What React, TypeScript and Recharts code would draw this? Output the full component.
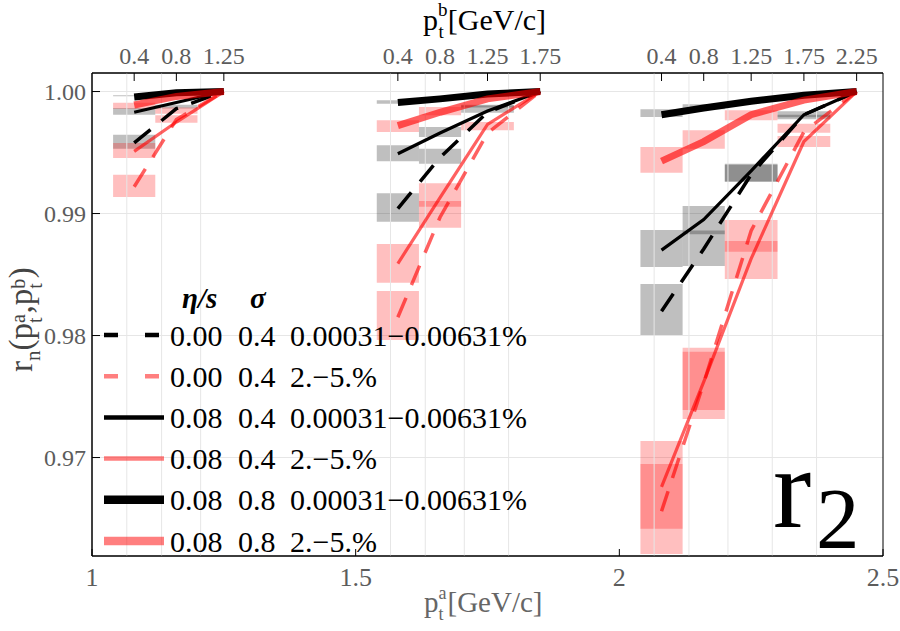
import React from 'react';
import {
  CartesianGrid,
  ComposedChart,
  Legend,
  Line,
  ReferenceArea,
  ReferenceLine,
  XAxis,
  YAxis,
} from 'recharts';

// ============ Layout ============

const W = 900;
const H = 631;
const SERIF = '"Liberation Serif", "Times New Roman", serif';
const TICK_GREY = '#5c5c5c';

// ============ Data ============

// p_t^a of each panel, and the x offset the panels are laid out at (x = offset + 0.2 * p_t^b)
const PA_VALUES = [1.25, 1.75, 2.25];
const PANEL_OFFSET = [1.0, 1.5, 2.0];
const PB_SCALE = 0.2;

// p_t^b bins
const PB_CENTERS = [0.4, 0.8, 1.25, 1.75, 2.25];
const PB_LABELS = ['0.4', '0.8', '1.25', '1.75', '2.25'];
const PB_EDGES = [0.2, 0.6, 1.0, 1.5, 2.0, 2.5];
const PB_GRID = [0.33, 0.66, 1.03, 1.45, 1.87];

const X_TICKS = [1, 1.5, 2, 2.5];
const Y_TICKS = [0.97, 0.98, 0.99, 1.0];
const Y_DOMAIN = [0.96193, 1.00152];

// hydro curves, one row per panel, values at the p_t^b centres up to p_t^a
const ETA0_SIG04_CENTRAL = [
  [0.9958, 0.9986, 1.0],
  [0.9904, 0.9946, 0.9983, 1.0],
  [0.982, 0.9871, 0.9932, 0.9981, 1.0],
];
const ETA0_SIG04_MID = [
  [0.9922, 0.9977, 1.0],
  [0.9815, 0.9897, 0.9966, 1.0],
  [0.9656, 0.9761, 0.9886, 0.9967, 1.0],
];
const ETA08_SIG04_CENTRAL = [
  [0.9983, 0.9991, 1.0],
  [0.9949, 0.9966, 0.9984, 1.0],
  [0.987, 0.9895, 0.9935, 0.9981, 1.0],
];
const ETA08_SIG04_MID = [
  [0.9951, 0.9975, 1.0],
  [0.9859, 0.9913, 0.9973, 1.0],
  [0.9676, 0.9762, 0.9863, 0.9959, 1.0],
];
const ETA08_SIG08_CENTRAL = [
  [0.99955, 0.9999, 1.0],
  [0.9991, 0.9994, 0.9998, 1.0],
  [0.9981, 0.99865, 0.9992, 0.9997, 1.0],
];
const ETA08_SIG08_MID = [
  [0.9989, 0.9996, 1.0],
  [0.9972, 0.9983, 0.9994, 1.0],
  [0.9943, 0.9959, 0.9981, 0.9993, 1.0],
];

// data boxes: [panel, p_t^b bin, low, high]
const CENTRAL_BOXES = [
  [0, 0, 0.99961, 0.99969], [0, 0, 0.9981, 0.99865], [0, 0, 0.99531, 0.99646],
  [0, 1, 0.9986, 0.99892],
  [1, 0, 0.999, 0.99928], [1, 0, 0.99428, 0.99559], [1, 0, 0.98933, 0.99166],
  [1, 1, 0.99627, 0.99709], [1, 1, 0.99408, 0.99531],
  [1, 2, 0.99826, 0.99892], [1, 2, 0.9987, 0.99885],
  [2, 0, 0.99791, 0.99854], [2, 0, 0.98562, 0.98865], [2, 0, 0.98004, 0.98422],
  [2, 1, 0.99855, 0.99895], [2, 1, 0.9857, 0.99061], [2, 1, 0.9883, 0.9886],
  [2, 2, 0.99258, 0.99408], [2, 2, 0.99265, 0.994],
  [2, 3, 0.99772, 0.99838], [2, 3, 0.9979, 0.9981],
];
const MID_BOXES = [
  [0, 0, 0.99859, 0.99908], [0, 0, 0.99455, 0.99578], [0, 0, 0.99135, 0.99318],
  [0, 1, 0.99818, 0.9987], [0, 1, 0.99744, 0.99805],
  [1, 0, 0.99668, 0.99764], [1, 0, 0.98433, 0.9875], [1, 0, 0.97963, 0.98365],
  [1, 1, 0.99805, 0.99873], [1, 1, 0.98884, 0.99248], [1, 1, 0.99056, 0.99102],
  [1, 2, 0.99682, 0.9975],
  [2, 0, 0.99334, 0.99545], [2, 0, 0.96209, 0.97135], [2, 0, 0.96416, 0.96947],
  [2, 1, 0.99531, 0.99682], [2, 1, 0.97316, 0.979], [2, 1, 0.97389, 0.97867],
  [2, 2, 0.99764, 0.99846], [2, 2, 0.98463, 0.98947], [2, 2, 0.98687, 0.98775],
  [2, 3, 0.99662, 0.99736], [2, 3, 0.99545, 0.99635],
];

// legend columns
const LEGEND_ETA = ['0.00', '0.00', '0.08', '0.08', '0.08', '0.08'];
const LEGEND_SIGMA = ['0.4', '0.4', '0.4', '0.4', '0.8', '0.8'];
const LEGEND_CENT = [
  '0.00031\u22120.00631%',
  '2.\u22125.%',
  '0.00031\u22120.00631%',
  '2.\u22125.%',
  '0.00031\u22120.00631%',
  '2.\u22125.%',
];

// ============ Styles ============

const RED = '#ff0000';

const SERIES = [
  { values: ETA0_SIG04_CENTRAL, color: '#000', opacity: 1, width: 3.5, dash: '21 14', legendWidth: 4.5, legendDash: '14 27' },
  { values: ETA0_SIG04_MID, color: RED, opacity: 0.62, width: 3.5, dash: '21 14', legendWidth: 4.5, legendDash: '14 27' },
  { values: ETA08_SIG04_CENTRAL, color: '#000', opacity: 1, width: 3.2, dash: undefined, legendWidth: 4.5, legendDash: undefined },
  { values: ETA08_SIG04_MID, color: RED, opacity: 0.62, width: 3.2, dash: undefined, legendWidth: 4.5, legendDash: undefined },
  { values: ETA08_SIG08_CENTRAL, color: '#000', opacity: 1, width: 7, dash: undefined, legendWidth: 8.5, legendDash: undefined },
  { values: ETA08_SIG08_MID, color: RED, opacity: 0.62, width: 7, dash: undefined, legendWidth: 8.5, legendDash: undefined },
];

// ============ Helpers ============

const toX = (panel: number, pb: number) => PANEL_OFFSET[panel] + PB_SCALE * pb;

const curvePoints = (values: number[], panel: number) =>
  values.map((y, i) => ({ x: toX(panel, PB_CENTERS[i]), y }));

const TOP_TICKS = PA_VALUES.flatMap((pa, panel) =>
  PB_CENTERS.map((pb, i) => ({ x: toX(panel, pb), label: PB_LABELS[i], pb }))
    .filter((t) => t.pb <= pa + 1e-9),
);

const GRID_X = PA_VALUES.flatMap((pa, panel) =>
  PB_GRID.filter((_, i) => PB_CENTERS[i] <= pa + 1e-9).map((g) => toX(panel, g)),
);

// ============ Ticks ============

const LeftTick = (props: any) => {
  const { x, y, payload } = props;
  return (
    <g>
      <line x1={x} x2={x + 8} y1={y} y2={y} stroke="#000" strokeWidth={1} />
      <text x={x - 6} y={y} textAnchor="end" dominantBaseline="central" fontSize={24} fontFamily={SERIF} fill={TICK_GREY}>
        {Number(payload.value).toFixed(2)}
      </text>
    </g>
  );
};

const BottomTick = (props: any) => {
  const { x, y, payload } = props;
  return (
    <g>
      <line x1={x} x2={x} y1={y} y2={y - 7} stroke="#000" strokeWidth={1} />
      <text x={x} y={y + 21} textAnchor="middle" dominantBaseline="central" fontSize={26} fontFamily={SERIF} fill={TICK_GREY}>
        {String(payload.value)}
      </text>
    </g>
  );
};

const TopTick = (props: any) => {
  const { x, y, payload } = props;
  const t = TOP_TICKS.find((tt) => Math.abs(tt.x - payload.value) < 1e-6);
  return (
    <g>
      <line x1={x} x2={x} y1={y} y2={y + 8} stroke="#000" strokeWidth={1} />
      <text x={x} y={y - 17} textAnchor="middle" dominantBaseline="central" fontSize={24} fontFamily={SERIF} fill={TICK_GREY}>
        {t ? t.label : ''}
      </text>
    </g>
  );
};

// ============ Legend ============

const LegendBlock = () => (
  <svg width={460} height={290} style={{ overflow: 'visible' }}>
    <text x={82} y={23} fontSize={29} fontFamily={SERIF} fontWeight="bold" fontStyle="italic" dominantBaseline="central">
      η/s
    </text>
    <text x={150} y={23} fontSize={29} fontFamily={SERIF} fontWeight="bold" fontStyle="italic" dominantBaseline="central">
      σ
    </text>
    {SERIES.map((s, i) => {
      const cy = 60 + i * 41.2;
      return (
        <g key={i}>
          <line
            x1={4}
            x2={64}
            y1={cy}
            y2={cy}
            stroke={s.color}
            strokeOpacity={s.color === RED ? 0.5 : 1}
            strokeWidth={s.legendWidth}
            strokeDasharray={s.legendDash}
          />
          <text x={70} y={cy} fontSize={30} fontFamily={SERIF} dominantBaseline="central">{LEGEND_ETA[i]}</text>
          <text x={138} y={cy} fontSize={30} fontFamily={SERIF} dominantBaseline="central">{LEGEND_SIGMA[i]}</text>
          <text x={190} y={cy} fontSize={30} fontFamily={SERIF} dominantBaseline="central">{LEGEND_CENT[i]}</text>
        </g>
      );
    })}
  </svg>
);

// ============ Titles ============

const Titles = () => (
  <svg width={W} height={H} style={{ position: 'absolute', left: 0, top: 0, pointerEvents: 'none' }}>
    {/* top axis title */}
    <text x={423} y={30} fontSize={30} fontFamily={SERIF} fill="#000">
      p<tspan fontSize={19} dy={-14}>b</tspan>
      <tspan fontSize={19} dx={-9} dy={22}>t</tspan>
      <tspan dx={4} dy={-8}>[GeV/c]</tspan>
    </text>
    {/* bottom axis title */}
    <text x={424} y={612} fontSize={29} fontFamily={SERIF} fill="#666">
      p<tspan fontSize={18} dy={-13}>a</tspan>
      <tspan fontSize={18} dx={-8} dy={21}>t</tspan>
      <tspan dx={4} dy={-8}>[GeV/c]</tspan>
    </text>
    {/* left axis title */}
    <text x={0} y={0} fontSize={33} fontFamily={SERIF} fill="#444" transform="translate(32,372) rotate(-90)">
      r<tspan fontSize={21} dy={8}>n</tspan>
      <tspan dy={-8}>(p</tspan>
      <tspan fontSize={20} dy={-7}>a</tspan>
      <tspan fontSize={20} dx={-9} dy={17}>t</tspan>
      <tspan dx={4} dy={-10}>,p</tspan>
      <tspan fontSize={20} dy={-7}>b</tspan>
      <tspan fontSize={20} dx={-10} dy={17}>t</tspan>
      <tspan dx={5} dy={-10}>)</tspan>
    </text>
    {/* panel label */}
    <text x={773} y={527} fontSize={115} fontFamily={SERIF} fill="#000">r</text>
    <text x={816} y={548} fontSize={87} fontFamily={SERIF} fill="#000">2</text>
  </svg>
);

// ============ Main Component ============

export default function App() {
  return (
    <div style={{ position: 'absolute', left: 0, top: 0, width: W, height: H, background: '#fff' }}>
      <ComposedChart width={W} height={H} margin={{ top: 0, right: 17, bottom: 0, left: 0 }}>
        <CartesianGrid vertical={false} stroke="#e6e6e6" />
        <XAxis
          xAxisId="top"
          orientation="top"
          type="number"
          dataKey="x"
          domain={[1, 2.5]}
          ticks={TOP_TICKS.map((t) => t.x)}
          interval={0}
          height={73}
          tickSize={0}
          tickMargin={0}
          tickLine={false}
          axisLine={{ stroke: '#000' }}
          tick={<TopTick />}
          allowDataOverflow
        />
        <XAxis
          type="number"
          dataKey="x"
          domain={[1, 2.5]}
          ticks={X_TICKS}
          interval={0}
          height={75}
          tickSize={0}
          tickMargin={0}
          tickLine={false}
          axisLine={{ stroke: '#000' }}
          tick={<BottomTick />}
          allowDataOverflow
        />
        <YAxis
          type="number"
          domain={Y_DOMAIN}
          ticks={Y_TICKS}
          interval={0}
          width={92}
          tickSize={0}
          tickMargin={0}
          tickLine={false}
          axisLine={{ stroke: '#000' }}
          tick={<LeftTick />}
          allowDataOverflow
        />

        {GRID_X.map((gx) => (
          <ReferenceLine key={`g${gx}`} x={gx} stroke="#e6e6e6" strokeWidth={1} />
        ))}

        {CENTRAL_BOXES.map(([p, b, lo, hi], i) => (
          <ReferenceArea
            key={`c${i}`}
            x1={toX(p, PB_EDGES[b])}
            x2={toX(p, PB_EDGES[b + 1])}
            y1={lo}
            y2={hi}
            fill="#000"
            fillOpacity={0.25}
            stroke="none"
          />
        ))}
        {MID_BOXES.map(([p, b, lo, hi], i) => (
          <ReferenceArea
            key={`m${i}`}
            x1={toX(p, PB_EDGES[b])}
            x2={toX(p, PB_EDGES[b + 1])}
            y1={lo}
            y2={hi}
            fill={RED}
            fillOpacity={0.25}
            stroke="none"
          />
        ))}

        {SERIES.flatMap((s, si) =>
          s.values.map((vals, panel) => (
            <Line
              key={`s${si}-${panel}`}
              data={curvePoints(vals, panel)}
              dataKey="y"
              type="linear"
              stroke={s.color}
              strokeOpacity={s.opacity}
              strokeWidth={s.width}
              strokeDasharray={s.dash}
              dot={false}
              activeDot={false}
              isAnimationActive={false}
            />
          )),
        )}

        <ReferenceArea x1={1} x2={2.5} y1={Y_DOMAIN[0]} y2={Y_DOMAIN[1]} fill="none" stroke="#000" strokeWidth={1} />

        <Legend
          layout="vertical"
          align="center"
          verticalAlign="middle"
          content={() => <LegendBlock />}
          wrapperStyle={{ left: 100, top: 275, width: 460, height: 290 }}
        />
      </ComposedChart>
      <Titles />
    </div>
  );
}
